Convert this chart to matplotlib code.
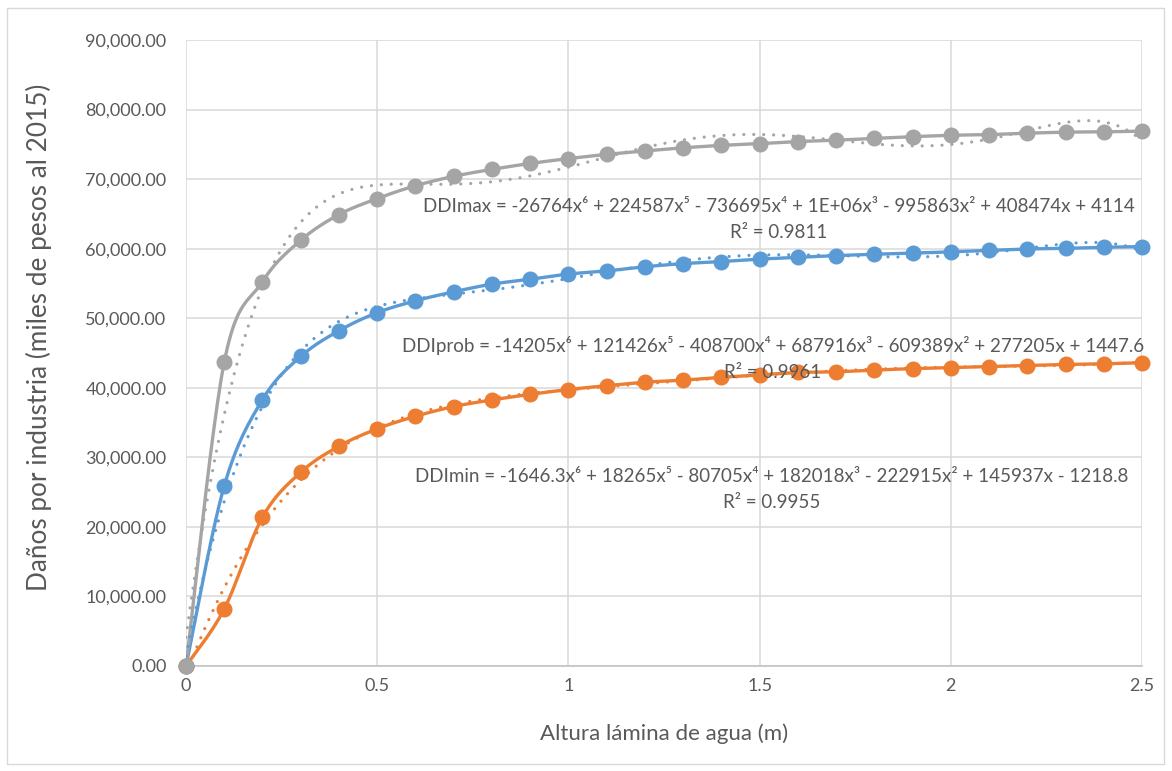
import numpy as np
import matplotlib
matplotlib.use("Agg")
import matplotlib.pyplot as plt
from matplotlib.patches import Rectangle
from matplotlib.ticker import FuncFormatter

plt.rcParams['font.family'] = ['Lato', 'DejaVu Sans']

# water depth (m)
altura = [0.0, 0.1, 0.2, 0.3, 0.4, 0.5, 0.6, 0.7, 0.8, 0.9, 1.0, 1.1, 1.2,
          1.3, 1.4, 1.5, 1.6, 1.7, 1.8, 1.9, 2.0, 2.1, 2.2, 2.3, 2.4, 2.5]

# damages (miles de pesos al 2015)
ddi_prob = [0, 25900, 38300, 44500, 48200, 50800, 52500, 53800, 54900, 55600,
            56350, 56800, 57400, 57850, 58150, 58500, 58750, 59000, 59200,
            59350, 59550, 59750, 59950, 60050, 60200, 60300]
ddi_min = [0, 8200, 21400, 27850, 31600, 34100, 35900, 37300, 38250, 39050,
           39750, 40300, 40800, 41100, 41500, 41850, 42200, 42300, 42550,
           42750, 42900, 43050, 43200, 43350, 43450, 43600]
ddi_max = [0, 43700, 55250, 61200, 64900, 67200, 69050, 70400, 71400, 72250,
           72950, 73550, 74050, 74500, 74850, 75100, 75400, 75600, 75850,
           76100, 76300, 76400, 76600, 76750, 76800, 76900]

etiquetas = [
    "DDIprob = -14205x\u2076 + 121426x\u2075 - 408700x\u2074 + 687916x\u00b3 - 609389x\u00b2 + 277205x + 1447.6\nR\u00b2 = 0.9961",
    "DDImin = -1646.3x\u2076 + 18265x\u2075 - 80705x\u2074 + 182018x\u00b3 - 222915x\u00b2 + 145937x - 1218.8\nR\u00b2 = 0.9955",
    "DDImax = -26764x\u2076 + 224587x\u2075 - 736695x\u2074 + 1E+06x\u00b3 - 995863x\u00b2 + 408474x + 4114\nR\u00b2 = 0.9811",
]
label_pos = [(1.535, 44200), (1.532, 25400), (1.551, 64200)]

colores = ["#5B9BD5", "#ED7D31", "#A5A5A5"]
TXT = "#595959"


def smooth(x, y, n=24):
    # Catmull-Rom curve through the points (like Excel's smoothed line)
    pts = np.column_stack([x, y]).astype(float)
    p = np.vstack([pts[0], pts, pts[-1]])
    t = np.linspace(0, 1, n, endpoint=False)[:, None]
    out = []
    for i in range(1, len(p) - 2):
        p0, p1, p2, p3 = p[i - 1], p[i], p[i + 1], p[i + 2]
        seg = 0.5 * (2 * p1 + (-p0 + p2) * t
                     + (2 * p0 - 5 * p1 + 4 * p2 - p3) * t ** 2
                     + (-p0 + 3 * p1 - 3 * p2 + p3) * t ** 3)
        out.append(seg)
    out.append(pts[-1][None])
    c = np.vstack(out)
    return c[:, 0], c[:, 1]


fig = plt.figure(figsize=(11.72, 7.71), dpi=100)
ax = fig.add_axes([0.1587, 0.1362, 0.8157, 0.8119])

x = np.array(altura)
xf = np.linspace(0, 2.5, 400)
for serie, col in zip([ddi_prob, ddi_min, ddi_max], colores):
    y = np.array(serie, dtype=float)
    sx, sy = smooth(x, y)
    ax.plot(sx, sy, color=col, lw=2.4, solid_capstyle='round', zorder=3)
    coef = np.polyfit(x, y, 6)
    ax.plot(xf, np.polyval(coef, xf), color=col, lw=2.3,
            linestyle=(0, (0.01, 3.1)), dash_capstyle='round', zorder=4)
    ax.plot(x, y, 'o', color=col, ms=10.5, zorder=5, clip_on=False)

for txt, (tx, ty) in zip(etiquetas, label_pos):
    ax.text(tx, ty, txt, ha='center', va='center', multialignment='center',
            fontsize=13.5, color=TXT, linespacing=1.62, zorder=6)

ax.set_xlim(0, 2.5)
ax.set_ylim(0, 90000)
ax.set_xticks([0, 0.5, 1, 1.5, 2, 2.5])
ax.set_yticks(np.arange(0, 90001, 10000))
ax.xaxis.set_major_formatter(FuncFormatter(lambda v, p: f"{v:g}"))
ax.yaxis.set_major_formatter(FuncFormatter(lambda v, p: f"{v:,.2f}"))
ax.grid(True, color="#D9D9D9", lw=1.1)
ax.set_axisbelow(True)
for s in ['top', 'right', 'left']:
    ax.spines[s].set_visible(False)
ax.spines['bottom'].set_color("#BFBFBF")
ax.spines['bottom'].set_linewidth(1.1)
ax.tick_params(length=0, labelsize=13, colors=TXT)
ax.tick_params(axis='y', pad=14)
ax.tick_params(axis='x', pad=9)

ax.set_xlabel("Altura lámina de agua (m)", fontsize=16, color=TXT, labelpad=21)
ax.set_ylabel("Daños por industria (miles de pesos al 2015)", fontsize=18.8,
              color=TXT, labelpad=24)
ax.yaxis.label.set_y(0.525)

fig.patches.append(Rectangle((7 / 1172, 7 / 771), 1157 / 1172, 756 / 771,
                             transform=fig.transFigure, fill=False,
                             edgecolor="#D9D9D9", lw=1))

fig.savefig("out.png", dpi=100)
